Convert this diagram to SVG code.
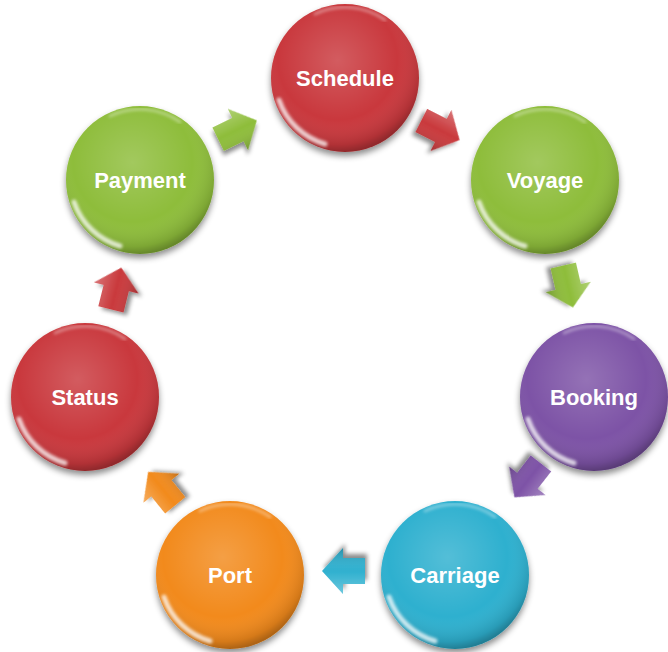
<svg xmlns="http://www.w3.org/2000/svg" width="668" height="652" viewBox="0 0 668 652">
<defs>
<style>
.lbl{font-family:"Liberation Sans",Arial,sans-serif;font-weight:bold;font-size:22px;fill:#fff;text-anchor:middle}
.red{fill:#c9393c}.green{fill:#8ebd3a}.purple{fill:#7d52a6}.blue{fill:#2fb0cf}.orange{fill:#f28a1c}
.ball{filter:url(#sh)}
.arr{filter:url(#ash)}
</style>
<radialGradient id="shade" cx="0.45" cy="0.38" r="0.62">
<stop offset="0" stop-color="#fff" stop-opacity="0.18"/>
<stop offset="0.65" stop-color="#fff" stop-opacity="0"/>
<stop offset="0.92" stop-color="#000" stop-opacity="0.12"/>
<stop offset="1" stop-color="#000" stop-opacity="0.28"/>
</radialGradient>
<linearGradient id="ashade" x1="0" y1="0" x2="0" y2="1">
<stop offset="0" stop-color="#fff" stop-opacity="0.3"/>
<stop offset="0.5" stop-color="#fff" stop-opacity="0"/>
<stop offset="1" stop-color="#000" stop-opacity="0.2"/>
</linearGradient>
<filter id="sh" x="-20%" y="-20%" width="140%" height="145%">
<feDropShadow dx="0" dy="4" stdDeviation="3" flood-color="#000" flood-opacity="0.45"/>
</filter>
<filter id="ash" x="-30%" y="-30%" width="160%" height="160%">
<feDropShadow dx="-2" dy="4" stdDeviation="2" flood-color="#000" flood-opacity="0.45"/>
</filter>
<filter id="blur"><feGaussianBlur stdDeviation="1.5"/></filter>
<g id="shine">
<circle r="74" fill="url(#shade)"/>
<path d="M-66,22 A69,69 0 0 0 -20,66" fill="none" stroke="#fff" stroke-width="5" stroke-linecap="round" opacity="0.75" filter="url(#blur)"/>
<path d="M-30,-64 A70,70 0 0 1 40,-58" fill="none" stroke="#fff" stroke-width="3" stroke-linecap="round" opacity="0.35" filter="url(#blur)"/>
</g>
<g id="arrow">
<path d="M-21,-13 L1,-13 L1,-23 L22,0 L1,23 L1,13 L-21,13 Z"/>
<path d="M-21,-13 L1,-13 L1,-23 L22,0 L1,23 L1,13 L-21,13 Z" fill="url(#ashade)"/>
<path d="M-16,7 L-2,7" stroke="#fff" stroke-width="3" stroke-linecap="round" opacity="0.6" filter="url(#blur)"/>
</g>
</defs>
<g id="connectors">
<use href="#arrow" class="red arr" transform="translate(440,130) rotate(27)"/>
<use href="#arrow" class="green arr" transform="translate(568,286) rotate(77)"/>
<use href="#arrow" class="purple arr" transform="translate(528,480) rotate(128)"/>
<use href="#arrow" class="blue arr" transform="translate(344,571) rotate(180)"/>
<use href="#arrow" class="orange arr" transform="translate(162,489) rotate(231)"/>
<use href="#arrow" class="red arr" transform="translate(116,289) rotate(284)"/>
<use href="#arrow" class="green arr" transform="translate(237,130) rotate(-26)"/>
</g>
<g id="schedule" transform="translate(345,78)">
<circle r="74" class="red ball"/><use href="#shine"/>
<text class="lbl" y="8">Schedule</text>
</g>
<g id="voyage" transform="translate(545,180)">
<circle r="74" class="green ball"/><use href="#shine"/>
<text class="lbl" y="8">Voyage</text>
</g>
<g id="booking" transform="translate(594,397)">
<circle r="74" class="purple ball"/><use href="#shine"/>
<text class="lbl" y="8">Booking</text>
</g>
<g id="carriage" transform="translate(455,575)">
<circle r="74" class="blue ball"/><use href="#shine"/>
<text class="lbl" y="8">Carriage</text>
</g>
<g id="port" transform="translate(230,575)">
<circle r="74" class="orange ball"/><use href="#shine"/>
<text class="lbl" y="8">Port</text>
</g>
<g id="status" transform="translate(85,397)">
<circle r="74" class="red ball"/><use href="#shine"/>
<text class="lbl" y="8">Status</text>
</g>
<g id="payment" transform="translate(140,180)">
<circle r="74" class="green ball"/><use href="#shine"/>
<text class="lbl" y="8">Payment</text>
</g>
</svg>
